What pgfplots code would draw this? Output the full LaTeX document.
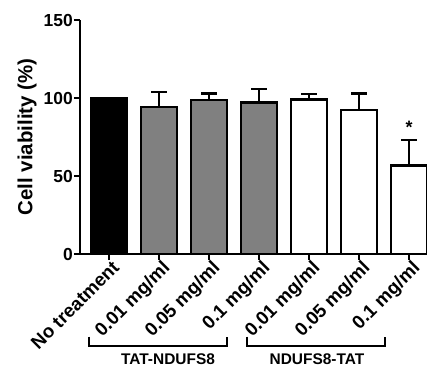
\documentclass[border=0pt]{standalone}
\usepackage{pgfplots}
\pgfplotsset{compat=1.18}
\usepackage{fontspec}
\setmainfont{Liberation Sans}
\begin{document}
\begin{tikzpicture}
\path[use as bounding box] (0,0) rectangle (427bp,367bp);
\begin{axis}[
  at={(80bp,113bp)}, anchor=south west,
  scale only axis, width=347bp, height=234bp,
  xmin=-0.58, xmax=6.36, ymin=0, ymax=150,
  axis x line=bottom, axis y line=left,
  axis line style={-, line width=2.4bp},
  every tick/.style={line width=2.4bp, black},
  tick align=outside, major tick length=6bp,
  ytick={0,50,100,150},
  xtick={0,1,2,3,4,5,6},
  xticklabels={No treatment,0.01 mg/ml,0.05 mg/ml,0.1 mg/ml,0.01 mg/ml,0.05 mg/ml,0.1 mg/ml},
  xticklabel style={rotate=45, anchor=north east, inner sep=1bp, xshift=3bp, font=\fontsize{18.8}{21}\selectfont\bfseries},
  yticklabel style={font=\fontsize{17.5}{19}\selectfont\bfseries, inner sep=1bp},
  /pgf/number format/assume math mode=true,
  ylabel={Cell viability (\%)},
  every axis y label/.style={at={(-53bp,117bp)}, rotate=90, anchor=center, font=\fontsize{20.5}{23}\selectfont\bfseries},
  ybar, bar width=36bp,
  clip=false,
  error bars/y dir=plus, error bars/y explicit,
  error bars/error bar style={line width=2.4bp, black},
  error bars/error mark options={rotate=90, mark size=8bp, line width=2.4bp, black},
]
\addplot[ybar, bar shift=0pt, fill=black, draw=black, line width=2.6bp] coordinates {(0,100)};
\addplot[ybar, bar shift=0pt, fill={rgb,255:red,128;green,128;blue,128}, draw=black, line width=2.6bp,
  error bars/.cd, y dir=plus, y explicit] coordinates {
  (1,94.2) +- (0,9.6)
  (2,98.7) +- (0,4.3)
  (3,97.0) +- (0,8.8)
};
\addplot[ybar, bar shift=0pt, fill=white, draw=black, line width=2.6bp,
  error bars/.cd, y dir=plus, y explicit] coordinates {
  (4,99.2) +- (0,3.4)
  (5,92.3) +- (0,10.7)
  (6,56.8) +- (0,16.2)
};
\node[font=\fontsize{18}{20}\selectfont\bfseries] at (axis cs:6,81) {*};
\draw[line width=1.8bp] (axis cs:-0.4,-53) -- (axis cs:-0.4,-59) -- (axis cs:2.36,-59) -- (axis cs:2.36,-53);
\draw[line width=1.8bp] (axis cs:2.76,-53) -- (axis cs:2.76,-59) -- (axis cs:5.52,-59) -- (axis cs:5.52,-53);
\node[font=\fontsize{15.5}{17}\selectfont\bfseries] at (axis cs:1.18,-67.2) {TAT-NDUFS8};
\node[font=\fontsize{15.5}{17}\selectfont\bfseries] at (axis cs:4.16,-67.2) {NDUFS8-TAT};
\end{axis}
\end{tikzpicture}
\end{document}
